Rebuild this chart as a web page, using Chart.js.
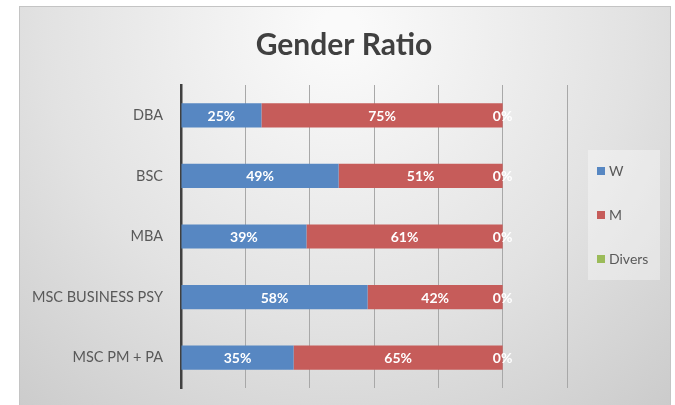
<!DOCTYPE html>
<html>
<head>
<meta charset="utf-8">
<script src="https://cdn.jsdelivr.net/npm/chart.js@4"></script>
<style>
  body { margin: 0; background: #fff; }
  #wrap { position: absolute; left: 0; top: 0; width: 675px; height: 405px; }
</style>
</head>
<body>
<div id="wrap"><canvas id="barGraph1" width="675" height="405"></canvas></div>
<script>
var chartTitle = 'Gender Ratio';
var programs = ['DBA', 'BSC', 'MBA', 'MSC BUSINESS PSY', 'MSC PM + PA'];
var women = [25, 49, 39, 58, 35];
var men = [75, 51, 61, 42, 65];
var divers = [0, 0, 0, 0, 0];
var seriesNames = ['W', 'M', 'Divers'];
var seriesColors = ['#5787c2', '#c65c5a', '#9bbb59'];

var FONT = 'Lato, "Open Sans", sans-serif';

// frame with soft grey gradient + the title, centred on the whole frame
var frameBg = {
	id: 'frameBg',
	beforeDraw: function(chart) {
		var c = chart.ctx;
		c.save();
		var g = c.createRadialGradient(340, 30, 20, 340, 30, 520);
		g.addColorStop(0, '#fafafa');
		g.addColorStop(0.55, '#e2e2e2');
		g.addColorStop(1, '#c9c9c9');
		c.fillStyle = g;
		c.fillRect(19, 6, 652, 399);
		c.strokeStyle = '#c4c4c4';
		c.lineWidth = 1;
		c.strokeRect(19.5, 6.5, 651, 400);
		c.font = 'bold 30px ' + FONT;
		c.fillStyle = '#404040';
		c.textAlign = 'center';
		c.textBaseline = 'middle';
		c.fillText(chartTitle, 344, 45);
		c.restore();
	}
};

// percentage labels in the middle of each bar segment
var barLabels = {
	id: 'barLabels',
	afterDatasetsDraw: function(chart) {
		var c = chart.ctx;
		c.save();
		c.font = 'bold 14px ' + FONT;
		c.fillStyle = '#ffffff';
		c.textAlign = 'center';
		c.textBaseline = 'middle';
		chart.data.datasets.forEach(function(ds, i) {
			var meta = chart.getDatasetMeta(i);
			meta.data.forEach(function(bar, j) {
				var x = (bar.x + bar.base) / 2;
				c.fillText(ds.data[j] + '%', x, bar.y + 1);
			});
		});
		c.restore();
	}
};

// legend drawn at the right like the original
var sideLegend = {
	id: 'sideLegend',
	afterDraw: function(chart) {
		var c = chart.ctx;
		c.save();
		c.fillStyle = 'rgba(255,255,255,0.35)';
		c.fillRect(588, 150, 72, 130);
		c.font = '14px ' + FONT;
		c.textBaseline = 'middle';
		chart.data.datasets.forEach(function(ds, i) {
			var y = 171 + i * 44;
			c.fillStyle = ds.backgroundColor;
			c.fillRect(597, y - 4, 8, 8);
			c.fillStyle = '#595959';
			c.fillText(ds.label, 609, y);
		});
		c.restore();
	}
};

var chartdata = {
	labels: programs,
	datasets: [
		{ label: seriesNames[0], data: women, backgroundColor: seriesColors[0] },
		{ label: seriesNames[1], data: men, backgroundColor: seriesColors[1] },
		{ label: seriesNames[2], data: divers, backgroundColor: seriesColors[2] }
	]
};

var ctx = document.getElementById('barGraph1');
var barGraph = new Chart(ctx, {
	type: 'bar',
	data: chartdata,
	plugins: [frameBg, barLabels, sideLegend],
	options: {
		indexAxis: 'y',
		responsive: false,
		animation: false,
		layout: { padding: { left: 19, right: 108, top: 85, bottom: 17 } },
		datasets: { bar: { barPercentage: 0.8, categoryPercentage: 0.5 } },
		plugins: {
			legend: { display: false },
			tooltip: { enabled: false },
			title: { display: false }
		},
		scales: {
			x: {
				stacked: true,
				min: 0,
				max: 120,
				afterFit: function(scale) { scale.height = 0; },
				ticks: { display: false, stepSize: 20 },
				grid: { color: '#a8a8a8', drawTicks: false },
				border: { display: false }
			},
			y: {
				stacked: true,
				afterFit: function(scale) {
					scale.width = 162;
					// label padding otherwise pushes the plot up from the bottom
					scale.paddingTop = 0;
					scale.paddingBottom = 0;
				},
				ticks: { color: '#595959', font: { family: FONT, size: 14.5 }, padding: 18 },
				grid: { display: false, drawTicks: false },
				border: { display: true, color: '#404040', width: 2.5 }
			}
		}
	}
});
</script>
</body>
</html>
